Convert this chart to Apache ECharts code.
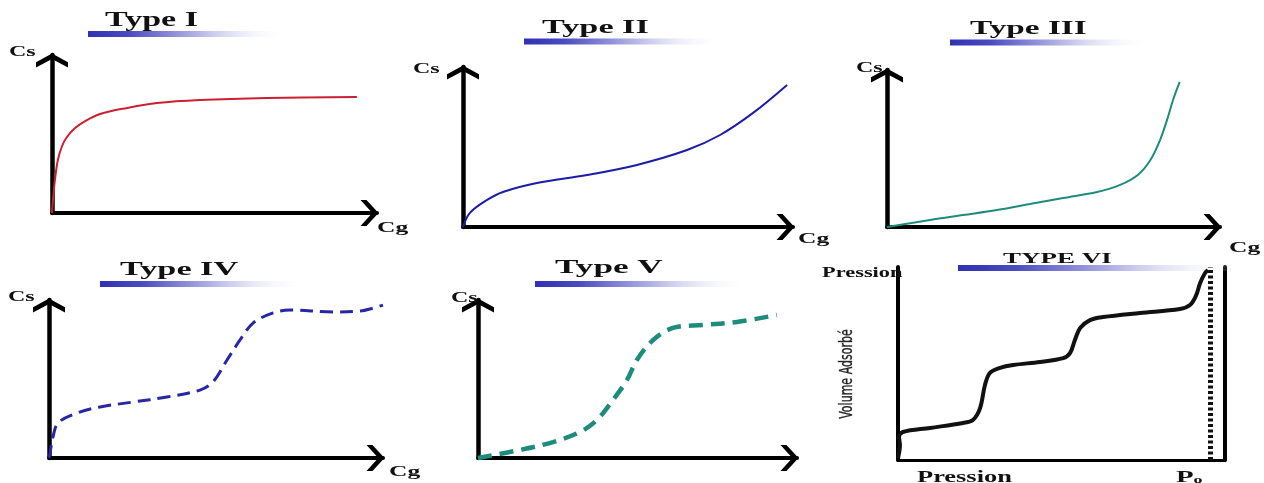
<!DOCTYPE html>
<html>
<head>
<meta charset="utf-8">
<script src="https://cdn.jsdelivr.net/npm/echarts@6/dist/echarts.min.js"></script>
<style>
html,body{margin:0;padding:0;background:#fff;}
#chart{width:1264px;height:483px;}
</style>
</head>
<body>
<div id="chart"></div>
<script>
// ---- Data (normalised: 0..100 along each axis) ----
const panelTitles = ['Type I', 'Type II', 'Type III', 'Type IV', 'Type V', 'TYPE VI'];
const axisYName = 'Cs';
const axisXName = 'Cg';
const typeVIYName = 'Volume Adsorbé';
const typeVIXName = 'Pression';
const typeVITopName = 'Pression';

const typeI = [[0,0],[0.3,8.2],[0.9,20.9],[1.8,33.5],[3.1,42.4],[4.6,48.1],[7.1,53.8],[10.2,58.2],[14.8,62.7],[23.1,66.5],[32.3,69.6],[45.5,71.5],[66.2,72.8],[93.8,73.4]];
const typeII = [[0,0],[2.1,8.8],[7.3,16.9],[12.1,21.9],[22.4,27.5],[37.6,32.5],[52.7,38.8],[67.9,48.1],[77.9,57.5],[87.9,71.3],[98.2,88.8]];
const typeIII = [[0,0],[12.9,4.5],[22.8,7.6],[33.0,10.8],[42.9,14.6],[52.9,18.5],[63.1,22.3],[70.0,26.8],[75.5,33.5],[79.2,43.0],[82.0,55.4],[84.1,68.2],[85.9,80.9],[87.9,92.4]];
const typeIV = [[0,0],[0.3,3.2],[1.2,13.3],[2.7,22.2],[8.4,28.5],[15.3,32.3],[25.1,35.4],[35.3,38.6],[45.2,43.0],[49.1,48.1],[53.3,62.0],[57.2,74.7],[61.1,85.4],[67.1,91.8],[72.2,93.7],[85.0,92.4],[93.1,93.0],[100,96.8]];
const typeV = [[0,0],[13.2,5.1],[23.5,10.1],[32.0,16.5],[37.3,24.1],[42.3,36.7],[46.7,49.4],[49.8,62.0],[54.9,74.7],[61.1,82.3],[70.5,84.2],[81.2,86.1],[93.7,90.5]];
const typeVI = [[0,1],[0.6,7.8],[0.3,11.9],[1.5,14.5],[9.8,16.6],[19.9,19.2],[22.9,20.7],[25.1,26.9],[26.6,38.9],[28.1,45.1],[31.2,47.7],[35.2,49.2],[43.4,50.8],[50.5,52.8],[52.6,55.4],[54.1,62.2],[55.7,68.4],[58.7,72.5],[62.7,74.1],[74.0,76.2],[86.2,78.2],[89.3,80.3],[91.1,85.0],[92.4,91.7],[93.9,96.9],[94.8,98.4]];
const typeVI_P0 = 95.4;

// ---- Layout / style ----
const grids = [
  {left: 52,  top: 55,  width: 325, height: 158},
  {left: 463, top: 67,  width: 330, height: 160},
  {left: 887, top: 70,  width: 333, height: 157},
  {left: 49,  top: 300, width: 334, height: 158},
  {left: 478, top: 300, width: 319, height: 158},
  {left: 898, top: 267, width: 327, height: 193}
];
const seriesData = [typeI, typeII, typeIII, typeIV, typeV, typeVI];
const seriesStyle = [
  {color: '#cc2030', width: 2, type: 'solid'},
  {color: '#1c1caa', width: 2, type: 'solid'},
  {color: '#1e8c7c', width: 2, type: 'solid'},
  {color: '#2626a6', width: 3, type: [13, 7]},
  {color: '#1e8c7c', width: 4.5, type: [14, 8]},
  {color: '#111111', width: 4, type: 'solid'}
];

// arrow heads (pointing "up" in their own frame; ECharts rotates them along the axis)
const yArrowPath = 'path://M16,0 L32,8.8 L32,14 L16,5.4 L0,14 L0,8.8 Z';
const xArrowPath = 'path://M13,0 L26,12 L26,18 L13,6.2 L0,18 L0,12 Z';
const ySym = [32, 14], xSym = [26, 18];

const xAxes = [], yAxes = [], series = [];
grids.forEach(function (g, i) {
  const isVI = i === 5;
  xAxes.push({
    type: 'value', gridIndex: i, min: 0, max: 100,
    axisLine: isVI ? {show: true, lineStyle: {color: '#000', width: 3}} : {
      show: true, lineStyle: {color: '#000', width: 4},
      symbol: ['none', xArrowPath], symbolSize: xSym, symbolOffset: [0, 1.5 - xSym[1] / 2]
    },
    axisTick: {show: false}, axisLabel: {show: false}, splitLine: {show: false}
  });
  yAxes.push({
    type: 'value', gridIndex: i, min: 0, max: 100,
    axisLine: isVI ? {show: true, onZero: false, lineStyle: {color: '#000', width: 4}} : {
      show: true, onZero: false, lineStyle: {color: '#000', width: 4.5},
      symbol: ['none', yArrowPath], symbolSize: ySym, symbolOffset: [0, 1.5 - ySym[1] / 2]
    },
    axisTick: {show: false}, axisLabel: {show: false}, splitLine: {show: false}
  });
  const s = {
    type: 'line', xAxisIndex: i, yAxisIndex: i,
    data: seriesData[i], showSymbol: false, smooth: 0.35,
    lineStyle: seriesStyle[i], itemStyle: {color: seriesStyle[i].color}, z: 3
  };
  if (isVI) {
    s.markLine = {
      silent: true, symbol: ['none', 'none'], label: {show: false},
      lineStyle: {color: '#111', width: 5, type: [3, 2.5]},
      data: [{xAxis: typeVI_P0}]
    };
  }
  series.push(s);
});
// right-hand frame line of panel VI
yAxes.push({
  type: 'value', gridIndex: 5, min: 0, max: 100, position: 'right',
  axisLine: {show: true, onZero: false, lineStyle: {color: '#000', width: 4}},
  axisTick: {show: false}, axisLabel: {show: false}, splitLine: {show: false}
});

// ---- Texts and title bars ----
const SERIF = '"Liberation Serif", "DejaVu Serif", serif';
function txt(text, x, y, size, sx, extra) {
  return Object.assign({
    type: 'text', x: x, y: y, scaleX: sx, z: 10,
    style: {text: text, font: 'bold ' + size + 'px ' + SERIF, fill: '#111', verticalAlign: 'middle', align: 'left'}
  }, extra || {});
}
function bar(x, y, w, h) {
  return {
    type: 'rect', shape: {x: x, y: y, width: w, height: h}, z: 1,
    style: {fill: new echarts.graphic.LinearGradient(0, 0, 1, 0, [
      {offset: 0, color: '#3030b4'}, {offset: 0.2, color: '#4a4ac0'},
      {offset: 0.55, color: '#b4b4e6'}, {offset: 1, color: 'rgba(255,255,255,0)'}
    ])}
  };
}
const titlePos = [[105, 21, 20], [542, 28, 19], [970, 29, 19], [120, 270, 19], [555, 268, 19], [1003, 259, 15]];
const titleScale = [1.7, 1.8, 1.75, 1.8, 1.85, 1.8];
const barPos = [[88, 31, 200, 6], [524, 38.5, 200, 6], [950, 39.5, 200, 6], [100, 281, 205, 6], [535, 281, 215, 6], [958, 265, 285, 6]];

const graphics = [];
barPos.forEach(function (b) { graphics.push(bar(b[0], b[1], b[2], b[3])); });
titlePos.forEach(function (t, i) { graphics.push(txt(panelTitles[i], t[0], t[1], t[2], titleScale[i])); });

const csPos = [[9, 52], [413, 69], [856, 68], [8, 297], [451, 298]];
csPos.forEach(function (p) { graphics.push(txt(axisYName, p[0], p[1], 15, 1.6)); });
const cgPos = [[377, 228], [798, 239], [1229, 248], [389, 472]];
cgPos.forEach(function (p) { graphics.push(txt(axisXName, p[0], p[1], 15, 1.7)); });

graphics.push(txt(typeVITopName, 822, 273, 14, 1.6));
graphics.push(txt(typeVIXName, 917, 478, 16, 1.65));
graphics.push({
  type: 'text', x: 1176, y: 478, scaleX: 1.8, z: 10,
  style: {
    text: '{p|P}{o|o}', verticalAlign: 'middle', align: 'left',
    rich: {
      p: {font: 'bold 16px ' + SERIF, fill: '#111'},
      o: {font: 'bold 10px ' + SERIF, fill: '#111', padding: [5, 0, 0, 0]}
    }
  }
});
graphics.push({
  type: 'text', x: 848, y: 374, rotation: Math.PI / 2, scaleX: 0.72, z: 10,
  style: {text: typeVIYName, font: '17px "DejaVu Sans Condensed", "DejaVu Sans", sans-serif', fill: '#222', stroke: '#555', lineWidth: 0.4, align: 'center', verticalAlign: 'middle'}
});

const chart = echarts.init(document.getElementById('chart'));
chart.setOption({
  animation: false,
  backgroundColor: '#ffffff',
  grid: grids.map(function (g) { return Object.assign({containLabel: false}, g); }),
  xAxis: xAxes,
  yAxis: yAxes,
  series: series,
  graphic: graphics
});
</script>
</body>
</html>
